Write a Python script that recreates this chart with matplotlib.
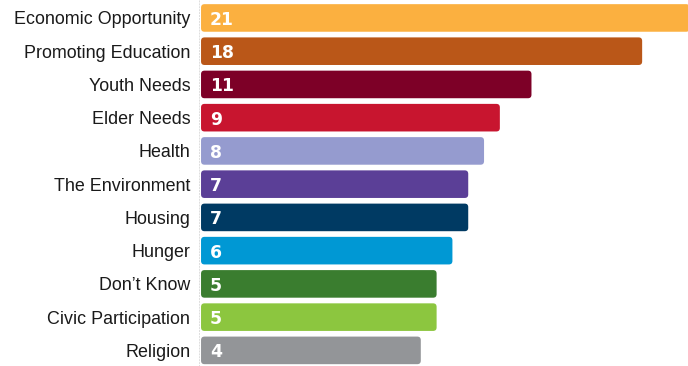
import numpy as np
import matplotlib
matplotlib.use("Agg")
import matplotlib.pyplot as plt
from matplotlib.patches import FancyBboxPatch

categories = [
    "Economic Opportunity", "Promoting Education", "Youth Needs",
    "Elder Needs", "Health", "The Environment", "Housing", "Hunger",
    "Don\u2019t Know", "Civic Participation", "Religion",
]
values = [21, 18, 11, 9, 8, 7, 7, 6, 5, 5, 4]
colors = [
    "#FBB040", "#BA5718", "#7D0027", "#C8152F", "#959BCF", "#5B3F97",
    "#003A63", "#0098D4", "#3A7D2F", "#8CC63F", "#939598",
]

BASE = -9.9          # bars grow from here, not from zero
W, H, DPI = 688, 366, 100
AX_LEFT = 198.5      # px

fig = plt.figure(figsize=(W / DPI, H / DPI), dpi=DPI, facecolor="white")
ax = fig.add_axes([AX_LEFT / W, 0, 1 - AX_LEFT / W, 1])

y = np.arange(len(values))
bars = ax.barh(y, np.array(values) - BASE, left=BASE, height=0.83,
               color=colors)

ax.set_xlim(-10.06, 20.9)
ax.set_ylim(10.47, -0.54)

# swap the square rectangles for slightly rounded ones
px_x = (ax.get_xlim()[1] - ax.get_xlim()[0]) / (W - AX_LEFT)
px_y = (ax.get_ylim()[0] - ax.get_ylim()[1]) / H
for rect in bars:
    x0, y0 = rect.get_x(), rect.get_y()
    w, h = rect.get_width(), rect.get_height()
    rect.set_visible(False)
    ax.add_patch(FancyBboxPatch(
        (x0, y0), w, h,
        boxstyle=f"round,pad=0,rounding_size={3.5 * px_x}",
        mutation_aspect=px_y / px_x,
        fc=rect.get_facecolor(), ec="none", lw=0, zorder=2))

for yi, v in zip(y, values):
    ax.annotate(str(v), xy=(BASE, yi), xytext=(6.5, 0),
                textcoords="offset points", va="center_baseline", ha="left",
                color="white", fontsize=12.4, fontweight="bold",
                family="DejaVu Sans", zorder=3)

ax.set_yticks(y)
ax.set_yticklabels(categories, family="Liberation Sans", fontsize=12.9,
                   color="#1a1a1a")
ax.tick_params(axis="y", length=0, pad=6)
ax.set_xticks([])

for side in ("top", "right", "bottom"):
    ax.spines[side].set_visible(False)
ax.spines["left"].set_color("#dddddd")
ax.spines["left"].set_linestyle((0, (1, 2)))
ax.spines["left"].set_linewidth(0.7)

fig.savefig("out.png", dpi=DPI, facecolor="white")
